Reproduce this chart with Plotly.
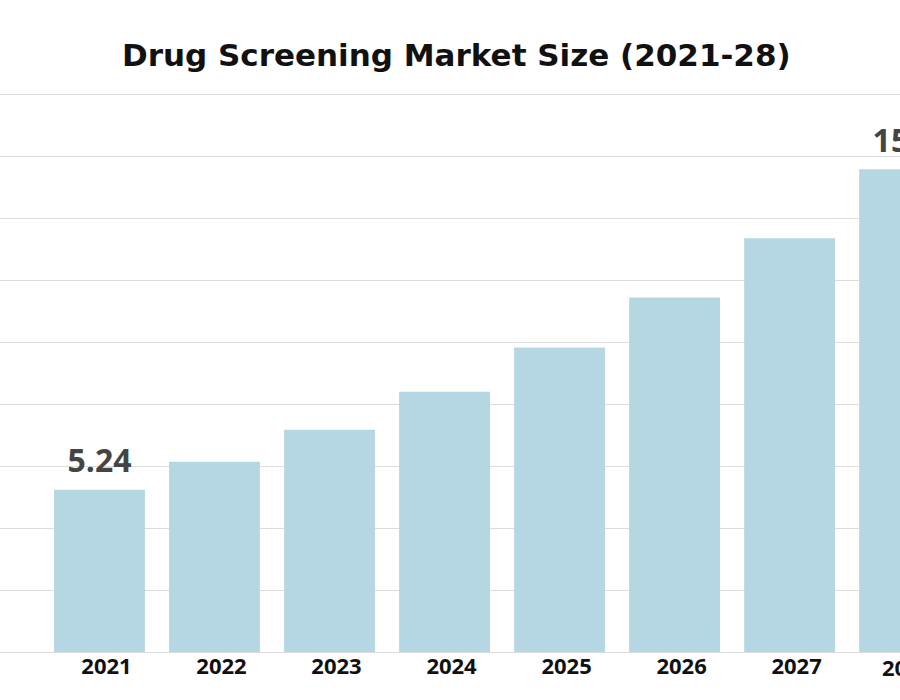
import plotly.graph_objects as go

years = ["2021", "2022", "2023", "2024", "2025", "2026", "2027", "2028"]
market_size = [5.24, 6.15, 7.18, 8.41, 9.84, 11.46, 13.37, 15.6]
labelled = [0, 7]  # bars that carry a value label

TITLE_FONT = "DejaVu Sans"
TEXT_FONT = "Open Sans"

fig = go.Figure()
fig.add_trace(go.Bar(
    x=years,
    y=market_size,
    marker=dict(color="#b5d7e4", line=dict(width=0)),
    cliponaxis=True,
    hoverinfo="skip",
))

# value labels above the first and last bars
fig.add_trace(go.Scatter(
    x=[years[i] for i in labelled],
    y=[market_size[i] for i in labelled],
    text=[f"{market_size[i]:g}" for i in labelled],
    mode="markers+text",
    marker=dict(size=14, opacity=0),
    textposition="top center",
    textfont=dict(family=TEXT_FONT, size=32, color="#444444", weight=700),
    cliponaxis=True,
    hoverinfo="skip",
))

# label for the last category, which sits past the visible plot edge
fig.add_annotation(
    x=907 / 900, y=0, xref="paper", yref="paper",
    text=years[-1], showarrow=False, xanchor="center", yanchor="middle", yshift=-15,
    font=dict(family=TEXT_FONT, size=22, color="#111111", weight=700),
)

fig.update_layout(
    width=900, height=700,
    margin=dict(l=0, r=0, t=95, b=48),
    paper_bgcolor="white", plot_bgcolor="white",
    bargap=0.21,
    showlegend=False,
    title=dict(
        text="Drug Screening Market Size (2021-28)",
        x=0.507, xref="paper", xanchor="center",
        y=1 - 55 / 700, yref="container", yanchor="middle",
        font=dict(family=TITLE_FONT, size=31, color="#111111", weight=700),
    ),
)
fig.update_xaxes(
    type="category",
    range=[-0.865, 6.96],
    showgrid=False, zeroline=False,
    showline=True, mirror=True, linecolor="#dcdcdc", linewidth=1,
    ticks="", ticklabelstandoff=-5, ticklabelshift=7,
    tickfont=dict(family=TEXT_FONT, size=22, color="#111111", weight=700),
)
fig.update_yaxes(
    range=[0, 18], dtick=2,
    showgrid=True, gridcolor="#dcdcdc", gridwidth=1,
    zeroline=False,
    showticklabels=False, showline=False, ticks="",
)

fig.write_html(
    "out.html",
    config={"displayModeBar": False},
    post_script="document.body.style.margin='0';document.body.style.overflow='hidden';",
)
